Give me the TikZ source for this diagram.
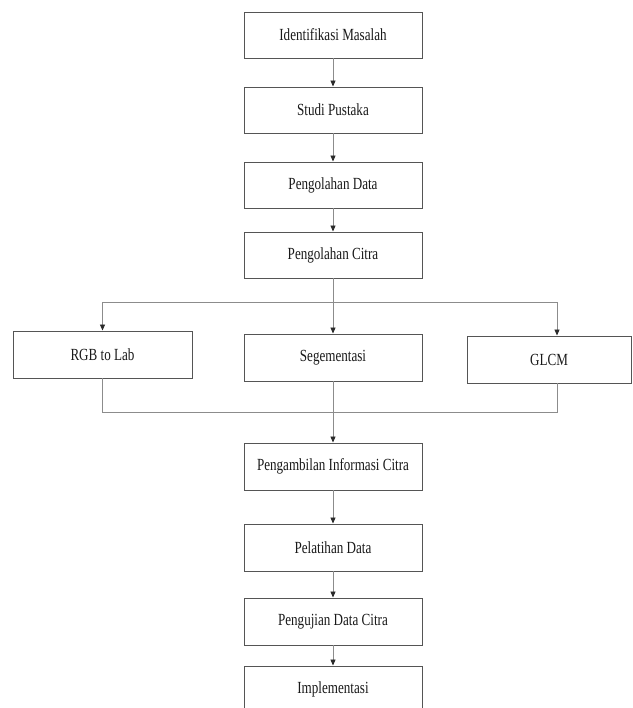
\documentclass[tikz,border=0pt]{standalone}
\usepackage{fontspec}
\setmainfont{Liberation Serif}[FakeStretch=0.77]
\usetikzlibrary{arrows.meta}
\definecolor{boxline}{HTML}{555555}
\definecolor{conn}{HTML}{8C8C8C}
\definecolor{tip}{HTML}{2A2A2A}
\tikzset{
  stepbox/.style={draw=boxline, line width=0.95pt, fill=white, minimum width=178pt, minimum height=46pt, inner sep=0pt, font=\fontsize{17}{20}\selectfont, text=black!90},
  link/.style={draw=conn, line width=0.9pt},
  arr/.style={link, -{Triangle[length=6pt,width=5pt,color=tip]}}
}
\begin{document}
\begin{tikzpicture}[x=1pt,y=-1pt]
\path[use as bounding box] (0,0) rectangle (632,708);
\clip (0,0) rectangle (632,708);
\fill[white] (0,0) rectangle (632,708);
\node[stepbox] (im) at (333,35) {Identifikasi Masalah};
\node[stepbox] (sp) at (333,110) {Studi Pustaka};
\node[stepbox] (pd) at (333,185) {Pengolahan Data};
\node[stepbox] (pc) at (333,255) {Pengolahan Citra};
\node[stepbox, minimum width=179pt, minimum height=47pt] (rgb) at (102.5,354.5) {RGB to Lab};
\node[stepbox, minimum height=47pt] (seg) at (333,357.5) {Segementasi};
\node[stepbox, minimum width=164pt, minimum height=47pt] (glcm) at (549,359.5) {GLCM};
\node[stepbox, minimum height=47pt] (pai) at (333,466.5) {Pengambilan Informasi Citra};
\node[stepbox, minimum height=47pt] (pl) at (333,547.5) {Pelatihan Data};
\node[stepbox, minimum height=47pt] (pu) at (333,621.5) {Pengujian Data Citra};
\node[stepbox, minimum height=47pt] (impl) at (333,689.5) {Implementasi};
\coordinate (split) at (333,302);
\coordinate (merge) at (333,412);
\draw[arr] (im) -- (sp);
\draw[arr] (sp) -- (pd);
\draw[arr] (pd) -- (pc);
\draw[link] (pc) -- (split);
\draw[arr] (split) -| (rgb.north);
\draw[arr] (split) -- (seg.north);
\draw[arr] (split) -| ([xshift=8pt]glcm.north);
\draw[link] (rgb.south) |- (merge);
\draw[link] ([xshift=8pt]glcm.south) |- (merge);
\draw[arr] (seg.south) -- (pai.north);
\draw[arr] (pai) -- (pl);
\draw[arr] (pl) -- (pu);
\draw[arr] (pu) -- (impl);
\end{tikzpicture}
\end{document}
